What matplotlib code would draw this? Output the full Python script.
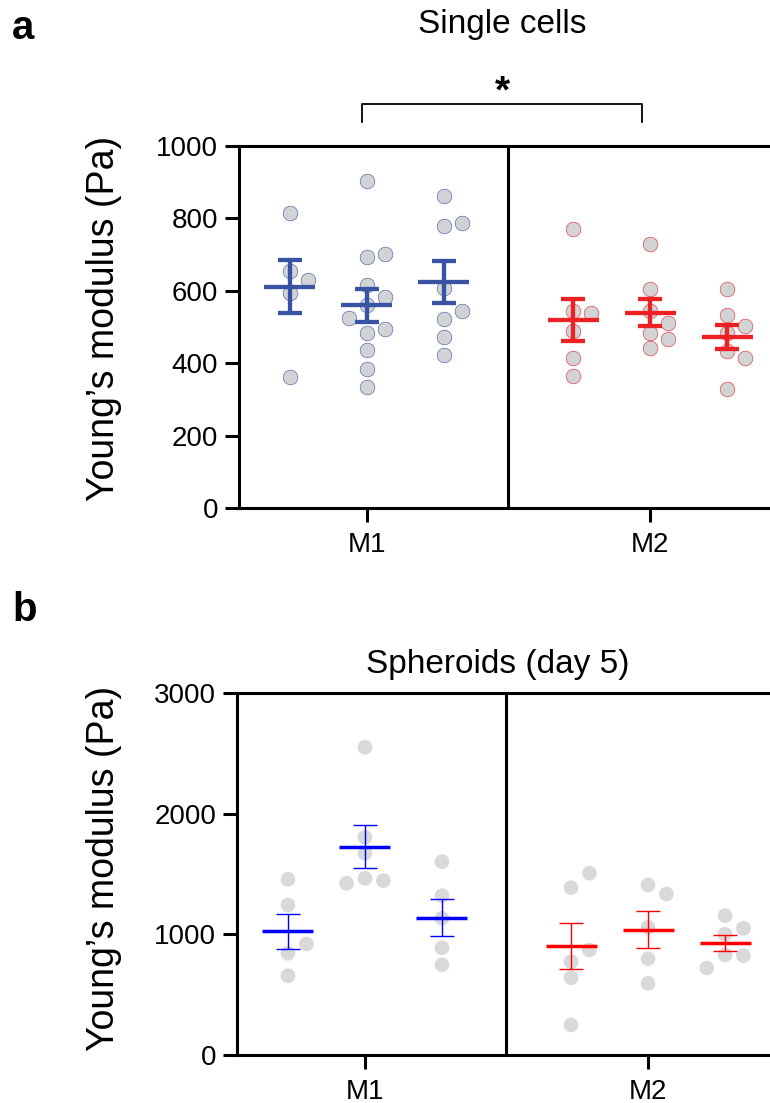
import numpy as np
import matplotlib
matplotlib.use("Agg")
import matplotlib.pyplot as plt

plt.rcParams["font.family"] = ["Liberation Sans", "DejaVu Sans"]

# ---- data ----
categories = ["M1", "M2"]

# panel a: single cells, Young's modulus (Pa), three replicates per macrophage type
cells_m1 = [
    [814, 593, 630, 656, 361],
    [904, 694, 703, 616, 484, 436, 384, 335, 494, 524, 561, 584],
    [863, 780, 788, 607, 522, 545, 471, 423],
]
cells_m2 = [
    [770, 490, 413, 365, 545, 538],
    [729, 605, 484, 441, 466, 510, 545],
    [605, 533, 484, 504, 434, 413, 329],
]

# panel b: spheroids day 5
sph_m1 = [
    [1456, 1243, 843, 657, 920],
    [2550, 1804, 1671, 1464, 1445, 1423],
    [1602, 1320, 1133, 889, 748],
]
sph_m2 = [
    [1387, 1506, 773, 641, 870, 249],
    [1058, 798, 594, 1409, 1334],
    [829, 823, 721, 1000, 1050, 1155],
]

# ---- styles ----
W, H = 770, 1103
BLUE_A, RED_A = "#3953a4", "#ed2024"
BLUE_B, RED_B = "#0000ff", "#ff0000"
GROUP_OFF = 0.272
SLOT = 0.065
DIAM_PX = 15.0


def swarm(values, px_per_unit):
    # simple greedy beeswarm: centre first, then right, then left
    placed = []
    slots = []
    for v in values:
        y = v * px_per_unit
        for k in [0, 1, -1, 2, -2, 3, -3]:
            if all(not (s == k and abs(y - yy) < DIAM_PX) for s, yy in placed):
                break
        placed.append((k, y))
        slots.append(k)
    return np.array(slots) * SLOT


def draw_panel(ax, groups_m1, groups_m2, ymax, colors, style):
    px_per_unit = 362.0 / ymax
    for cat_i, (groups, col) in enumerate(zip([groups_m1, groups_m2], colors)):
        for g_i, vals in enumerate(groups):
            vals = np.array(vals, dtype=float)
            x0 = cat_i + (g_i - 1) * GROUP_OFF
            xs = x0 + swarm(vals, px_per_unit)
            if style == "a":
                ax.scatter(xs, vals, s=112, color="#d1d3d4", edgecolor=col,
                           linewidth=0.4, zorder=2, clip_on=False)
            else:
                ax.scatter(xs, vals, s=112, color="#d9d9d9", edgecolor="none",
                           zorder=2, clip_on=False)
            m = vals.mean()
            sem = vals.std(ddof=1) / np.sqrt(len(vals))
            if style == "a":
                lw_mean, lw_err = 3.1, 3.1
            else:
                lw_mean, lw_err = 2.5, 1.0
            ax.hlines(m, x0 - 0.09, x0 + 0.09, color=col, lw=lw_mean, zorder=3)
            ax.vlines(x0, m - sem, m + sem, color=col, lw=lw_err, zorder=3)
            ax.hlines([m - sem, m + sem], x0 - 0.043, x0 + 0.043, color=col,
                      lw=lw_err, zorder=3)

    ax.set_xlim(-0.452, 1.498)
    ax.set_ylim(0, ymax)
    ax.axvline(0.5, color="black", lw=2.2, zorder=4)
    for sp in ax.spines.values():
        sp.set_linewidth(2.2)
    ax.set_xticks([0, 1])
    ax.set_xticklabels(categories)
    ax.tick_params(axis="both", length=10, width=2.2, labelsize=20)
    ax.tick_params(axis="y", pad=5)
    ax.tick_params(axis="x", pad=7)
    ax.set_ylabel("Young\u2019s modulus (Pa)", fontsize=27)


fig = plt.figure(figsize=(W / 100, H / 100), dpi=100)

ax_a = fig.add_axes([239 / W, 1 - 508 / H, 552 / W, 362 / H])
draw_panel(ax_a, cells_m1, cells_m2, 1000, [BLUE_A, RED_A], "a")
ax_a.set_yticks([0, 200, 400, 600, 800, 1000])
ax_a.yaxis.set_label_coords(-0.212, 0.525)

# significance bracket
ax_a.plot([-0.017, -0.017, 0.971, 0.971], [1067, 1116, 1116, 1067],
          color="black", lw=1.3, clip_on=False)
ax_a.text(0.48, 1120, "*", ha="center", va="baseline", fontsize=28,
          fontweight="bold")

ax_b = fig.add_axes([237 / W, 1 - 1055 / H, 552 / W, 362 / H])
draw_panel(ax_b, sph_m1, sph_m2, 3000, [BLUE_B, RED_B], "b")
ax_b.set_yticks([0, 1000, 2000, 3000])
ax_b.yaxis.set_label_coords(-0.208, 0.515)

fig.text(502 / W, 1 - 33 / H, "Single cells", ha="center", va="baseline",
         fontsize=24)
fig.text(498 / W, 1 - 673 / H, "Spheroids (day 5)", ha="center",
         va="baseline", fontsize=24)
fig.text(12 / W, 1 - 39 / H, "a", ha="left", va="baseline", fontsize=29,
         fontweight="bold")
fig.text(12 / W, 1 - 621 / H, "b", ha="left", va="baseline", fontsize=29,
         fontweight="bold")

fig.savefig("out.png", dpi=100)
